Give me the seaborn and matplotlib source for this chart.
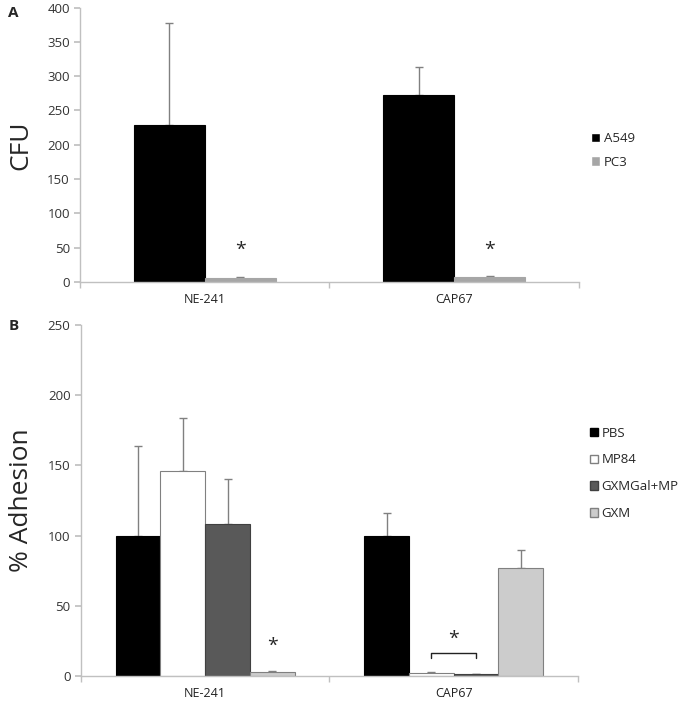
import numpy as np
import pandas as pd
import seaborn as sns
import matplotlib.pyplot as plt

# Panel A data
strains = ["NE-241", "CAP67"]
cells = ["A549", "PC3"]
cfu_a549 = [229, 272]
cfu_a549_err = [148, 41]
cfu_pc3 = [6, 7]
cfu_pc3_err = [1.5, 1]

# Panel B data
treatments = ["PBS", "MP84", "GXMGal+MP", "GXM"]
adh_pbs = [100, 100]
adh_pbs_err = [64, 16]
adh_mp84 = [146, 2]
adh_mp84_err = [38, 0.6]
adh_gxmgal = [108, 1]
adh_gxmgal_err = [32, 0.6]
adh_gxm = [3, 77]
adh_gxm_err = [0.3, 13]

sns.set_theme(style="white")
plt.rcParams["font.family"] = ["Open Sans", "DejaVu Sans"]

axis_gray = "#c0c0c0"
err_gray = "#808080"

df_a = pd.DataFrame({
    "strain": strains * 2,
    "cell": [cells[0]] * 2 + [cells[1]] * 2,
    "value": cfu_a549 + cfu_pc3,
})
err_a = [cfu_a549_err, cfu_pc3_err]

df_b = pd.DataFrame({
    "strain": strains * 4,
    "treat": sum([[t] * 2 for t in treatments], []),
    "value": adh_pbs + adh_mp84 + adh_gxmgal + adh_gxm,
})
err_b = [adh_pbs_err, adh_mp84_err, adh_gxmgal_err, adh_gxm_err]

fig = plt.figure(figsize=(6.8, 7.01), dpi=100)
ax_a = fig.add_axes([0.118, 0.598, 0.733, 0.391])
ax_b = fig.add_axes([0.119, 0.036, 0.731, 0.500])


def style_axis(ax, ymax, step):
    ax.set_ylim(0, ymax)
    ax.set_xlim(-0.5, 1.5)
    ax.set_yticks(np.arange(0, ymax + 1, step))
    for s in ["top", "right"]:
        ax.spines[s].set_visible(False)
    for s in ["left", "bottom"]:
        ax.spines[s].set_color(axis_gray)
        ax.spines[s].set_linewidth(1)
    ax.set_xticks([0, 1])
    ax.set_xticklabels(strains)
    ax.set_xticks([-0.5, 0.5, 1.5], minor=True)
    ax.tick_params(axis="x", which="major", length=0, labelsize=9, pad=8, colors="#222222")
    ax.tick_params(axis="x", which="minor", length=4, color=axis_gray, direction="out", bottom=True)
    ax.tick_params(axis="y", length=4, color=axis_gray, direction="out", left=True,
                   labelsize=9.5, colors="#222222")
    ax.set_xlabel("")
    for lab in ax.get_yticklabels():
        lab.set_color("#333333")


def add_errors(ax, errs):
    for cont, e in zip(ax.containers, errs):
        xs = [p.get_x() + p.get_width() / 2 for p in cont.patches]
        ys = [p.get_height() for p in cont.patches]
        ax.errorbar(xs, ys, yerr=[np.zeros(len(e)), e], fmt="none",
                    ecolor=err_gray, elinewidth=1, capsize=3, capthick=1, zorder=1)


# Panel A
sns.barplot(data=df_a, x="strain", y="value", hue="cell", ax=ax_a,
            palette=["#000000", "#a6a6a6"], width=0.57, saturation=1,
            errorbar=None, zorder=2)
for cont, ec in zip(ax_a.containers, ["#000000", "#a6a6a6"]):
    for p in cont.patches:
        p.set_edgecolor(ec)
        p.set_linewidth(0.8)
add_errors(ax_a, err_a)
style_axis(ax_a, 400, 50)
ax_a.set_ylabel("CFU", fontsize=19, labelpad=10)
for p in ax_a.containers[1].patches:
    ax_a.text(p.get_x() + p.get_width() / 2, 47, "*", ha="center", va="center", fontsize=14)
ax_a.legend(loc="upper left", bbox_to_anchor=(1.0, 0.59), frameon=False, fontsize=9.5,
            handlelength=0.7, handleheight=0.7, handletextpad=0.3, labelspacing=0.8)

# Panel B
colors_b = ["#000000", "#ffffff", "#595959", "#cccccc"]
edges_b = ["#000000", "#808080", "#404040", "#808080"]
sns.barplot(data=df_b, x="strain", y="value", hue="treat", ax=ax_b,
            palette=colors_b, width=0.72, saturation=1, errorbar=None, zorder=2)
for cont, ec in zip(ax_b.containers, edges_b):
    for p in cont.patches:
        p.set_edgecolor(ec)
        p.set_linewidth(0.8)
add_errors(ax_b, err_b)
style_axis(ax_b, 250, 50)
ax_b.set_ylabel("% Adhesion", fontsize=19, labelpad=10)

gxm_ne = ax_b.containers[3].patches[0]
ax_b.text(gxm_ne.get_x() + gxm_ne.get_width() / 2, 21, "*", ha="center", va="center", fontsize=14)
mp_cap = ax_b.containers[1].patches[1]
gal_cap = ax_b.containers[2].patches[1]
x0 = mp_cap.get_x() + mp_cap.get_width() / 2
x1 = gal_cap.get_x() + gal_cap.get_width() / 2
ax_b.plot([x0, x0, x1, x1], [12.5, 16, 16, 12.5], color="#222222", lw=1)
ax_b.text((x0 + x1) / 2, 26, "*", ha="center", va="center", fontsize=14)

handles, labels = ax_b.get_legend_handles_labels()
for h, ec in zip(handles, edges_b):
    h.set_edgecolor(ec)
ax_b.legend(handles, labels, loc="upper left", bbox_to_anchor=(1.0, 0.745), frameon=False,
            fontsize=9.5, handlelength=0.6, handleheight=0.6, handletextpad=0.3,
            labelspacing=1.05)

fig.text(0.012, 0.982, "A", fontsize=11, fontweight="bold", va="center")
fig.text(0.012, 0.535, "B", fontsize=11, fontweight="bold", va="center")

fig.savefig("out.png", dpi=100)
